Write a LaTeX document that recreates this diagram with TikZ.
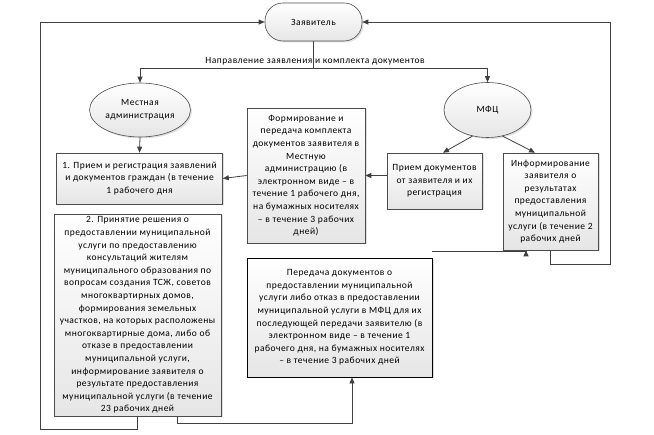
\documentclass[tikz,border=0pt]{standalone}
\usepackage{fontspec}
\setmainfont[LetterSpace=5]{Carlito}
\usetikzlibrary{arrows.meta,shapes.geometric,calc,shadows}
\begin{document}
\begin{tikzpicture}[x=1pt,y=-1pt,
  every node/.style={font=\fontsize{9.5}{12.6}\selectfont, align=center, inner sep=1pt},
  shade box/.style={draw=black!70, line width=0.6pt, top color=white, bottom color=black!10, drop shadow={shadow xshift=1.5pt,shadow yshift=-1.5pt,opacity=0.25}},
  procbox/.style={shade box, rectangle},
  oval/.style={shade box, ellipse},
  conn/.style={draw=black!75, line width=0.8pt},
  arr/.style={conn, -{Triangle[length=6pt,width=5pt]}}
]
\useasboundingbox (0,0) rectangle (654,435);

\node[procbox, rounded corners=18pt, minimum width=97pt, minimum height=38pt] (zay) at (313.5,22) {Заявитель};
\node[oval, minimum width=86pt, minimum height=54pt] (mestn) at (140,110) {Местная\\администрация};
\node[oval, minimum width=87pt, minimum height=55pt] (mfc) at (487.5,110) {МФЦ};

\node[procbox, minimum width=166pt, minimum height=51pt] (b1) at (139.5,178.5)
 {1. Прием и регистрация заявлений\\и документов граждан (в течение\\1 рабочего дня};
\node[procbox, minimum width=167pt, minimum height=202pt] (b2) at (137.5,315)
 {2. Принятие решения о\\предоставлении муниципальной\\услуги по предоставлению\\консультаций жителям\\муниципального образования по\\вопросам создания ТСЖ, советов\\многоквартирных домов,\\формирования земельных\\участков, на которых расположены\\многоквартирные дома, либо об\\отказе в предоставлении\\муниципальной услуги,\\информирование заявителя о\\результате предоставления\\муниципальной услуги (в течение\\23 рабочих дней};
\node[procbox, minimum width=118pt, minimum height=135pt] (form) at (306,175.5)
 {Формирование и\\передача комплекта\\документов заявителя в\\Местную\\администрацию (в\\электронном виде – в\\течение 1 рабочего дня,\\на бумажных носителях\\– в течение 3 рабочих\\дней)};
\node[procbox, minimum width=95pt, minimum height=56pt] (priem) at (434.5,181)
 {Прием документов\\от заявителя и их\\регистрация};
\node[procbox, minimum width=95pt, minimum height=97pt] (inf) at (550.5,201.5)
 {Информирование\\заявителя о\\результатах\\предоставления\\муниципальной\\услуги (в течение 2\\рабочих дней};
\node[procbox, draw=black, line width=0.9pt, minimum width=185pt, minimum height=119pt] (per) at (339.5,317.5)
 {Передача документов о\\предоставлении муниципальной\\услуги либо отказ в предоставлении\\муниципальной услуги в МФЦ для их\\последующей передачи заявителю (в\\электронном виде – в течение 1\\рабочего дня, на бумажных носителях\\– в течение 3 рабочих дней};

% connectors
\coordinate (split) at (313.5,68);
\draw[conn] (zay.south) -- (split);
\draw[arr] (split) -| (mestn.north);
\draw[arr] (split) -| (mfc.north);
\node (lbl) at (315,61.5) {Направление заявления и комплекта документов};

\draw[arr] (mestn.south) -- (b1.north);
\draw[arr] (mfc.240) -- ([xshift=8.5pt]priem.north);
\draw[arr] (mfc.300) -- ([xshift=-15.5pt]inf.north);
\draw[arr] (form.east -| priem.west) -- (form.east);
\draw[arr] (form.west) -- (b1.east);

\draw[arr] ([yshift=6pt]per.north east) -| ([xshift=-24.5pt]inf.south);

\coordinate (rc) at (610,264);
\draw[arr] (inf.south) |- (rc) |- (zay.east);

\coordinate (lc) at (40,429);
\draw[arr] ([xshift=-0.5pt]b2.south) |- (lc) |- (zay.west);

\coordinate (bc) at (352,423);
\draw[arr] ([xshift=39.5pt]b2.south) |- (bc) -- (bc |- per.south);
\end{tikzpicture}
\end{document}
